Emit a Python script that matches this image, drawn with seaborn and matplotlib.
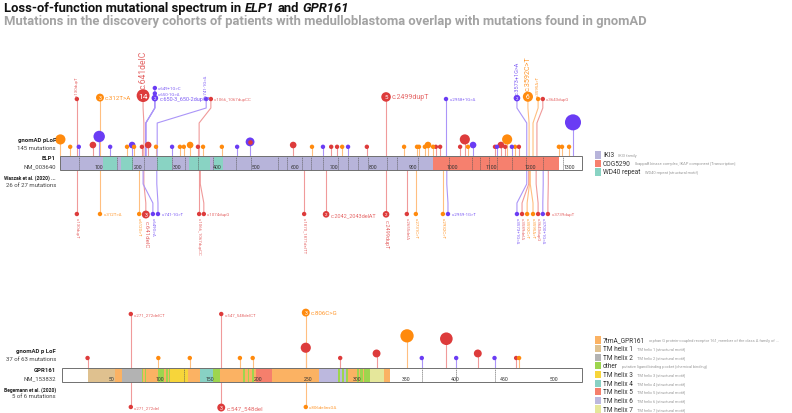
import numpy as np
import pandas as pd
import matplotlib
matplotlib.use("Agg")
import matplotlib.pyplot as plt
from matplotlib.patches import Rectangle
import seaborn as sns

# --- 1. Data ---
# classes: F = frameshift (red), N = nonsense (orange), S = splice (blue)
elp1_length = 1332
elp1_dom_start = [0, 109, 156, 248, 330, 392, 953]
elp1_dom_end = [953, 145, 186, 286, 383, 417, 1274]
elp1_dom_name = ["IKI3", "WD40 repeat", "WD40 repeat", "WD40 repeat", "WD40 repeat", "WD40 repeat", "COG5290"]
elp1_exons = [48, 145, 184, 214, 248, 286, 319, 352, 390, 449, 487, 556, 579, 617, 640, 671,
              709, 735, 760, 786, 834, 860, 913, 993, 1051, 1072, 1095, 1115, 1153, 1189, 1232, 1283]
elp1_ticks = list(range(100, 1301, 100))

elp1_gnomad_pos = [1, 26, 48, 84, 100, 128, 171, 184, 189, 209, 225, 245, 286, 306, 316, 332, 352,
                   365, 413, 452, 485, 595, 643, 671, 692, 707, 720, 735, 783, 878, 911, 916, 931,
                   939, 952, 959, 970, 1021, 1033, 1041, 1054, 1110, 1115, 1125, 1136, 1141, 1153,
                   1161, 1171, 1273, 1281, 1299, 1309]
elp1_gnomad_cls = ["N", "N", "S", "F", "S", "S", "N", "S", "N", "F", "F", "N", "S", "N", "N", "N", "F",
                   "N", "N", "S", "S", "F", "N", "S", "F", "F", "N", "S", "F", "N", "N", "N", "N",
                   "N", "N", "F", "F", "F", "F", "N", "S", "F", "S", "F", "F", "N", "S",
                   "N", "F", "N", "N", "N", "S"]
elp1_gnomad_cnt = [6, 1, 1, 2, 9, 1, 1, 2, 1, 1, 2, 1, 1, 1, 1, 2, 1,
                   1, 1, 1, 4, 2, 1, 1, 1, 1, 1, 1, 1, 1, 1, 1, 1,
                   2, 1, 1, 1, 1, 6, 1, 2, 1, 1, 2, 1, 6, 1,
                   1, 1, 1, 1, 1, 38]
elp1_gnomad_overlay = [485]

elp1_top_label = ["c.130dupT", "c.312T>A", "c.641delC", "c.649+1G>C", "c.650-1G>A", "c.650-3_650-2dupCA",
                  "c.741-1G>A", "c.1066_1067dupCC", "c.2499dupT", "c.2958+1G>A", "c.3573+1G>A",
                  "c.3592C>T", "c.3595A>T", "c.3643dupG"]
elp1_top_cls = ["F", "N", "F", "S", "S", "S", "S", "F", "F", "S", "S", "N", "N", "F"]
elp1_top_cnt = [1, 3, 14, 1, 1, 2, 1, 1, 5, 1, 2, 6, 1, 1]
elp1_top_true = [43, 102, 214, 219, 219, 219, 248, 355, 832, 985, 1191, 1197, 1207, 1217]
elp1_top_disp = [43, 102, 212, 242, 242, 242, 373, 385, 832, 985, 1166, 1194, 1220, 1232]

elp1_bot_label = ["c.130dupT", "c.312T>A", "c.612G>T", "c.641delC", "c.649G>A", "c.741-1G>T",
                  "c.1066_1067dupCC", "c.1074dupG", "c.1870_1871delTT", "c.2042_2043delAT",
                  "c.2499dupT", "c.2655delA", "c.2731C>T", "c.2932C>T", "c.2959-1G>T",
                  "c.3573+1G>A", "c.3589delA", "c.3592C>T", "c.3595A>T", "c.3643dupG",
                  "c.3700+1G>A", "c.3739dupT"]
elp1_bot_cls = ["F", "N", "N", "F", "S", "S", "F", "F", "F", "F", "F", "F", "N", "N", "S",
                "S", "F", "N", "N", "F", "S", "F"]
elp1_bot_cnt = [1, 1, 1, 3, 1, 1, 1, 1, 1, 2, 2, 1, 1, 1, 1, 1, 1, 1, 1, 1, 1, 1]
elp1_bot_true = [43, 102, 202, 214, 212, 247, 355, 358, 623, 679, 832, 885, 908, 977, 987,
                 1191, 1196, 1198, 1200, 1215, 1233, 1246]
elp1_bot_disp = [43, 102, 202, 219, 237, 250, 355, 367, 623, 679, 832, 885, 908, 977, 990,
                 1166, 1179, 1192, 1207, 1220, 1232, 1245]

gpr_length = 529
gpr_dom_start = [26, 26, 61, 81, 84, 98, 106, 108.5, 110, 140, 154, 184, 189, 193, 197, 261,
                 281, 285, 289, 300, 303.5, 307, 313]
gpr_dom_end = [334, 54, 81, 82.5, 85.5, 104, 107.5, 110, 128, 154, 161, 186, 190.5, 195, 214, 291,
               282.5, 286.5, 290.5, 302.5, 306, 313, 328]
gpr_dom_name = ["7tmA_GPR161", "TM helix 1", "TM helix 2", "other", "other", "other", "other",
                "other", "TM helix 3", "TM helix 4", "other", "other", "other", "other",
                "TM helix 5", "TM helix 6", "other", "other", "other", "other", "other", "other",
                "TM helix 7"]
gpr_exons = [124, 366, 401, 440]
gpr_ticks = list(range(50, 501, 50))

gpr_gnomad_pos = [26, 98, 130, 181, 194, 248, 283, 320, 351, 366, 391, 401, 423, 440, 462, 465]
gpr_gnomad_cls = ["F", "N", "N", "N", "N", "F", "F", "F", "N", "S", "F", "S", "F", "S", "F", "N"]
gpr_gnomad_cnt = [1, 1, 1, 1, 1, 6, 1, 3, 16, 1, 13, 1, 3, 1, 1, 1]

gpr_top_label = ["c.271_272delCT", "c.547_548delCT", "c.806C>G"]
gpr_top_cls = ["F", "F", "N"]
gpr_top_cnt = [1, 1, 3]
gpr_top_pos = [70, 162, 248]

gpr_bot_label = ["c.271_272del", "c.547_548del", "c.806delinsGA"]
gpr_bot_cls = ["F", "F", "N"]
gpr_bot_cnt = [1, 3, 1]
gpr_bot_pos = [70, 162, 248]

elp1_legend = [("IKI3", "IKI3 family"),
               ("COG5290", "IkappaB kinase complex, IKAP component [Transcription]"),
               ("WD40 repeat", "WD40 repeat [structural motif]")]
gpr_legend = [("7tmA_GPR161", "orphan G protein-coupled receptor 161, member of the class A family of ..."),
              ("TM helix 1", "TM helix 1 [structural motif]"),
              ("TM helix 2", "TM helix 2 [structural motif]"),
              ("other", "putative ligand binding pocket [chemical binding]"),
              ("TM helix 3", "TM helix 3 [structural motif]"),
              ("TM helix 4", "TM helix 4 [structural motif]"),
              ("TM helix 5", "TM helix 5 [structural motif]"),
              ("TM helix 6", "TM helix 6 [structural motif]"),
              ("TM helix 7", "TM helix 7 [structural motif]")]

# --- 2. Styling ---
sns.set_theme(style="white")
plt.rcParams["font.family"] = ["Roboto", "DejaVu Sans"]

dark = {"F": "#dd3b3b", "N": "#ff8a0d", "S": "#6a3cf4"}
light = {"F": "#f09a9a", "N": "#ffbf80", "S": "#ab95f8"}
label_col = {"F": "#e56767", "N": "#ff962a", "S": "#7d5cf5"}
dom_col = {"IKI3": "#b7b4da", "COG5290": "#f6806e", "WD40 repeat": "#89d3c3",
           "7tmA_GPR161": "#fbb263", "TM helix 1": "#dfc18f", "TM helix 2": "#b3b3b3",
           "other": "#9dd54e", "TM helix 3": "#f7d53a", "TM helix 4": "#88d1c4",
           "TM helix 5": "#f57f6c", "TM helix 6": "#bcb8de", "TM helix 7": "#e5e79b"}

PX = 100 / 72  # pixels per point
W, H = 792, 414
BAR = 7  # half bar height in px


def rad(c):
    return 2.2 + 1.6 * np.log(np.asarray(c, dtype=float))


def gene_axes(x0, x1, length, center):
    s = (x1 - x0) / length
    ax = fig.add_axes([0, 0, 1, 1], facecolor="none")
    ax.set_xlim(-x0 / s, (W - x0) / s)
    ax.set_ylim(center - H, center)
    ax.axis("off")
    return ax


def draw_protein(ax, length, starts, ends, names, exons, ticks):
    ax.barh(0, length, left=0, height=2 * BAR, color="white", linewidth=0, zorder=2)
    for a, b, n in zip(starts, ends, names):
        ax.barh(0, b - a, left=a, height=2 * BAR, color=dom_col[n], linewidth=0, zorder=2)
    ax.barh(0, length, left=0, height=2 * BAR, color="none", edgecolor="#707070",
            linewidth=0.7, zorder=4)
    ax.vlines(exons, -BAR, BAR, colors="#555555", linestyles=(0, (1.6, 1.2)),
              linewidth=0.5, zorder=3)
    for t in ticks:
        ax.text(t, -3.5, str(t), fontsize=3.7, color="#333333", ha="center", va="center", zorder=5)


def draw_gnomad(ax, pos, cls, cnt, h0, k):
    df = pd.DataFrame({"pos": pos, "cls": cls, "cnt": cnt})
    df["r"] = rad(df["cnt"])
    df["h"] = h0 + df["r"] + k * (df["r"] - 2.2) ** 2
    for _, row in df.iterrows():
        ax.plot([row.pos, row.pos], [BAR, row.h], color=light[row.cls], lw=0.8, zorder=1)
    df = df.sort_values("r", ascending=False).reset_index(drop=True)
    sns.scatterplot(data=df, x="pos", y="h", hue="cls", palette=dark,
                    s=((2 * df["r"] / PX) ** 2).values, linewidth=0, legend=False,
                    ax=ax, zorder=3)
    return df


def draw_labeled(ax, labels, cls, cnt, true_pos, disp_pos, top, base, rot, level, bend):
    r = rad(cnt)
    if top:
        h = base + np.asarray(level) * 5.5 + (r - 2.2) * 0.8
    else:
        h = -(base + (r - 2.2) * 0.3)
    sgn = 1 if top else -1
    for i in range(len(labels)):
        c = cls[i]
        if true_pos[i] != disp_pos[i]:
            xs = [true_pos[i], true_pos[i], disp_pos[i], disp_pos[i]]
            ys = [sgn * BAR, sgn * bend[0], sgn * bend[1], h[i]]
        else:
            xs = [disp_pos[i], disp_pos[i]]
            ys = [sgn * BAR, h[i]]
        ax.plot(xs, ys, color=light[c], lw=0.8, zorder=1)
    df = pd.DataFrame({"pos": disp_pos, "h": h, "cls": cls, "r": r})
    sns.scatterplot(data=df, x="pos", y="h", hue="cls", palette=dark,
                    s=((2 * df["r"] / PX) ** 2).values, linewidth=0, legend=False,
                    ax=ax, zorder=6)
    for i in range(len(labels)):
        fs = 3.2 + 1.15 * np.log(cnt[i])
        off = (r[i] + 1.2) / PX
        if cnt[i] > 1:
            ax.text(disp_pos[i], h[i], str(cnt[i]), color="white", fontsize=0.95 * r[i],
                    ha="center", va="center", zorder=7)
        if rot[i]:
            ax.annotate(labels[i], xy=(disp_pos[i], h[i]), xytext=(0, sgn * off),
                        textcoords="offset points", rotation=90 if top else -90,
                        ha="center", va="bottom" if top else "top", fontsize=fs,
                        color=label_col[cls[i]], zorder=7)
        else:
            ax.annotate(labels[i], xy=(disp_pos[i], h[i]), xytext=(off, 0),
                        textcoords="offset points", ha="left", va="center", fontsize=fs,
                        color=label_col[cls[i]], zorder=7)


# --- 3. Figure ---
fig = plt.figure(figsize=(W / 100, H / 100), dpi=100)

# ELP1
ax1 = gene_axes(60, 582, elp1_length, 164)
draw_protein(ax1, elp1_length, elp1_dom_start, elp1_dom_end, elp1_dom_name, elp1_exons, elp1_ticks)
g1 = draw_gnomad(ax1, elp1_gnomad_pos, elp1_gnomad_cls, elp1_gnomad_cnt, 14, 0.55)
ov = g1[g1["pos"].isin(elp1_gnomad_overlay)]
ax1.scatter(ov["pos"], ov["h"], s=(2 * 2.3 / PX) ** 2, color=dark["F"], linewidth=0, zorder=4)

top_rot = [True, False, True, False, False, False, True, False, False, False, True, True, True, False]
top_lvl = [0, 0, 0, 2, 1, 0, 0, 0, 0, 0, 0, 0, 0, 0]
draw_labeled(ax1, elp1_top_label, elp1_top_cls, elp1_top_cnt, elp1_top_true, elp1_top_disp,
             True, 64, top_rot, top_lvl, (40, 55))
bot_rot = [True, False, True, True, True, False, True, False, True, False, True, True, True, True,
           False, True, True, True, True, True, True, False]
draw_labeled(ax1, elp1_bot_label, elp1_bot_cls, elp1_bot_cnt, elp1_bot_true, elp1_bot_disp,
             False, 51, bot_rot, [0] * len(bot_rot), (21, 40))

# GPR161
ax2 = gene_axes(62, 582, gpr_length, 376)
draw_protein(ax2, gpr_length, gpr_dom_start, gpr_dom_end, gpr_dom_name, gpr_exons, gpr_ticks)
draw_gnomad(ax2, gpr_gnomad_pos, gpr_gnomad_cls, gpr_gnomad_cnt, 14.8, 0.9)
draw_labeled(ax2, gpr_top_label, gpr_top_cls, gpr_top_cnt, gpr_top_pos, gpr_top_pos,
             True, 61, [False] * 3, [0] * 3, (0, 0))
draw_labeled(ax2, gpr_bot_label, gpr_bot_cls, gpr_bot_cnt, gpr_bot_pos, gpr_bot_pos,
             False, 32, [False] * 3, [0] * 3, (0, 0))

# overlay axes in pixel units for text and legends
lax = fig.add_axes([0, 0, 1, 1], facecolor="none")
lax.set_xlim(0, W)
lax.set_ylim(H, 0)
lax.axis("off")

# title
TS = 9.4
prev = lax.text(4, 12, "Loss-of-function mutational spectrum in", fontsize=TS,
                fontweight="bold", color="#111111", va="baseline")
for txt, st in [("ELP1", "italic"), ("and", "normal"), ("GPR161", "italic")]:
    prev = lax.annotate(txt, xy=(1, 0), xycoords=prev, xytext=(TS * 0.26, 0),
                        textcoords="offset points", va="bottom", ha="left", fontsize=TS,
                        fontweight="bold", style=st, color="#111111")
lax.text(4, 24.5, "Mutations in the discovery cohorts of patients with medulloblastoma overlap "
         "with mutations found in gnomAD", fontsize=TS, fontweight="bold", color="#a3a3a3",
         va="baseline")

# left side labels
side = [(164, [("gnomAD pLoF", 23, True), ("145 mutations", 15, False), ("ELP1", 5, True),
               ("NM_003640", -3, False), ("Waszak et al. (2020) ...", -14, True),
               ("26 of 27 mutations", -22, False)]),
        (376, [("gnomAD p LoF", 24, True), ("37 of 63 mutations", 16, False), ("GPR161", 5, True),
               ("NM_153832", -3, False), ("Begemann et al. (2020)", -14, True),
               ("5 of 6 mutations", -21, False)])]
for center, rows in side:
    for txt, dy, bold in rows:
        fs = 3.6 if len(txt) > 18 and bold else 4.3
        lax.text(56, center - dy, txt, fontsize=fs, ha="right", va="center",
                 fontweight="bold" if bold else "normal",
                 color="#222222" if bold else "#444444")

# legends


def draw_legend(items, y0, step):
    for i, (name, desc) in enumerate(items):
        y = y0 + i * step
        lax.add_patch(Rectangle((595, y - 3.6), 6, 7.2, color=dom_col[name], linewidth=0))
        t = lax.text(603, y, name, fontsize=4.7, color="#333333", va="center", ha="left")
        lax.annotate(desc, xy=(1, 0.5), xycoords=t, xytext=(3, 0), textcoords="offset points",
                     fontsize=2.9, color="#9a9a9a", va="center", ha="left")


draw_legend(elp1_legend, 156, 8.5)
draw_legend(gpr_legend, 341, 8.63)

fig.savefig("out.png", dpi=100)
print("Plot saved to out.png")
